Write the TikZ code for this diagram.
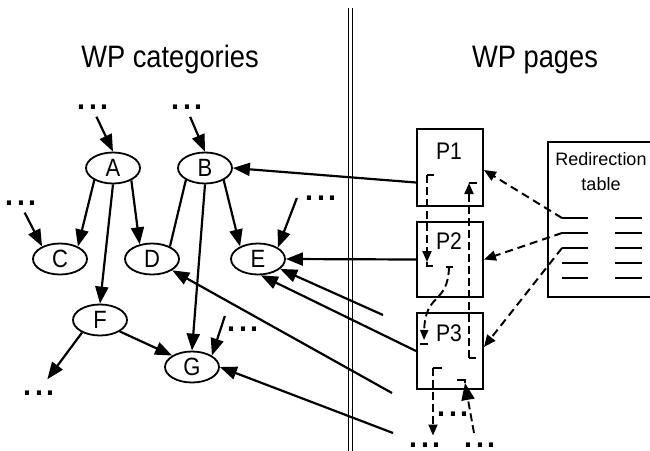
\documentclass[tikz,border=0pt]{standalone}
\usepackage{fontspec}
\setmainfont{Liberation Sans}
\newfontfamily\narrowfont[FakeStretch=0.88]{Liberation Sans}
\usetikzlibrary{shapes.geometric,arrows.meta}

\begin{document}
\begin{tikzpicture}[x=1pt, y=-1pt,
    >={Triangle[length=17pt,width=13pt]},
    cat/.style={draw, ellipse, line width=1.8pt, minimum width=54pt, minimum height=31pt, inner sep=0pt, font=\narrowfont\fontsize{25}{25}\selectfont},
    page/.style={draw, line width=1.9pt, minimum width=66pt, inner sep=0pt},
    pagename/.style={inner sep=0pt, font=\narrowfont\fontsize{24}{24}\selectfont},
    title/.style={inner sep=0pt, anchor=base, font=\narrowfont\fontsize{31}{31}\selectfont},
    more/.style={inner sep=0pt, font=\fontsize{43}{43}\selectfont},
    arr/.style={line width=2.2pt, ->},
    ln/.style={line width=2.2pt},
    ptr/.style={line width=2pt, dash pattern=on 8pt off 5pt, -{Triangle[length=12pt,width=10pt]}},
    link/.style={line width=1.9pt, dash pattern=on 8pt off 4pt},
    tick/.style={line width=1.9pt}]

    \useasboundingbox (0,0) rectangle (650,450);

    %Titles and separator
    \node[title] (tcat) at (170,67) {WP categories};
    \node[title] (tpag) at (535,67) {WP pages};
    \draw[double distance=2.4pt, line width=1.4pt] (350.5,8) -- (350.5,455); %Double line

    %Category graph
    \node[cat] (A) at (113,168) {A};
    \node[cat] (B) at (205,168) {B};
    \node[cat] (C) at (60,259) {C};
    \node[cat] (D) at (152,259) {D};
    \node[cat] (E) at (258,259) {E};
    \node[cat] (F) at (100,320) {F};
    \node[cat] (G) at (192,367) {G};

    %More categories
    \node[more] (dA) at (93,107) {...};
    \node[more] (dB) at (187,107) {...};
    \node[more] (dC) at (21,203) {...};
    \node[more] (dE) at (321,198) {...};
    \node[more] (dG) at (243,329) {...};
    \node[more] (dF) at (39,393) {...};

    %Category links
    \draw[arr, shorten <=8pt] (dA.south) -- (A.north);
    \draw[arr, shorten <=8pt] (dB.south) -- (B.north);
    \draw[arr, shorten <=8pt] (dC.south) -- (C.145);
    \draw[arr] ([xshift=-6pt]dE.west) -- (E.30);
    \draw[arr] ([yshift=13pt]dG.west) -- (G.30);
    \draw[arr] (A.-147) -- (C.35);  %A to C
    \draw[arr] (A.-34) -- (D.130);  %A to D
    \draw[arr] (A.south) -- (F.north); %A to F
    \draw[ln] (B.-148) -- (D.35);   %B to D, no tip
    \draw[arr] (B.south) -- (G.north); %B to G
    \draw[arr] (B.-33) -- (E.145);  %B to E
    \draw[arr] (F.-30) -- (G.150);  %F to G
    \draw[arr, shorten >=14pt] (F.-145) -- (dF.north); %F down

    %Pages
    \node[page, minimum height=77pt] (P1) at (450,167.5) {};
    \node[page, minimum height=75pt] (P2) at (450,259.5) {};
    \node[page, minimum height=76pt] (P3) at (450,351) {};
    \node[pagename] (P1t) at (449,151) {P1};
    \node[pagename] (P2t) at (449,241) {P2};
    \node[pagename] (P3t) at (449,333) {P3};

    %Redirection table
    \node[draw, line width=1.9pt, minimum width=104pt, minimum height=155pt] (tab) at (600,219.5) {};
    \node[inner sep=0pt, anchor=north, align=center, font=\fontsize{18}{25}\selectfont] (tabt) at (601,152.5) {Redirection\\table};
    \foreach \y [count=\i] in {218,233,248,263,278} {
        \draw[tick] (562,\y) coordinate (r\i) -- (588,\y); %Left column
        \draw[tick] (615,\y) -- (642,\y);                  %Right column
    }
    \draw[ptr] (r1) -- ([yshift=-2.5pt]P1.east);
    \draw[ptr] (r2) -- (P2.east);
    \draw[ptr] (r3) -- ([yshift=4pt]P3.east);

    %Pages to categories
    \coordinate (tE) at (383,315);
    \coordinate (tD) at (392,393);
    \coordinate (tG) at (393,433);
    \draw[arr] ([yshift=-15pt]P1.west) -- (B.east);
    \draw[arr] (P2.west) -- (E.east);
    \draw[arr] (P3.west) -- (E.-80);
    \draw[arr] (tE) -- (E);
    \draw[arr] (tD) -- (D);
    \draw[arr] (tG) -- (G.east);

    %Links between pages
    \coordinate (k1) at (427,175);
    \coordinate (k2) at (427,266);
    \coordinate (k3) at (469,358);
    \coordinate (k4) at (469,183);
    \coordinate (k5) at (449,267);
    \coordinate (k6) at (424,340);
    \coordinate (k7) at (433,368);
    \coordinate (k8) at (465,380);
    \coordinate (k9) at (474,433);
    \node[more] (dM) at (453,414) {...};
    \node[more] (dL) at (425,445) {...};
    \node[more] (dR) at (480,445) {...};

    \draw[tick] (k1) -- ++(7,0);
    \draw[link, -{Triangle[length=11pt,width=9pt]}] (k1) -- ([yshift=4pt]k2); %P1 to P2
    \draw[tick] ([yshift=4pt]k2) -- (k2) -- ++(6,0);
    \draw[tick] (k3) -- ++(7,0);
    \draw[link, -{Triangle[length=11pt,width=9pt]}] (k3) -- (k4); %P3 to P1
    \draw[tick] (k4) -- ++(8,0);
    \draw[tick] ([xshift=-3pt]k5) -- ([xshift=4pt]k5);
    \draw[link, -{Triangle[length=10pt,width=8pt]}] (k5) .. controls (448,305) and (425,292) .. (k6); %P2 to P3
    \draw[tick] ([xshift=-4pt,yshift=-4pt]k6) -- ([xshift=4pt,yshift=-4pt]k6);
    \draw[tick] (k7) -- ++(9,0);
    \draw[link, -{Triangle[length=11pt,width=9pt]}, shorten >=7pt] (k7) -- (k7 |- dL.north); %P3 down
    \draw[tick] ([xshift=-8pt]k8) -- (k8) -- ++(0,3);
    \draw[link, ->] (k9) -- ([yshift=-3pt]k8); %into P3

\end{tikzpicture}
\end{document}
